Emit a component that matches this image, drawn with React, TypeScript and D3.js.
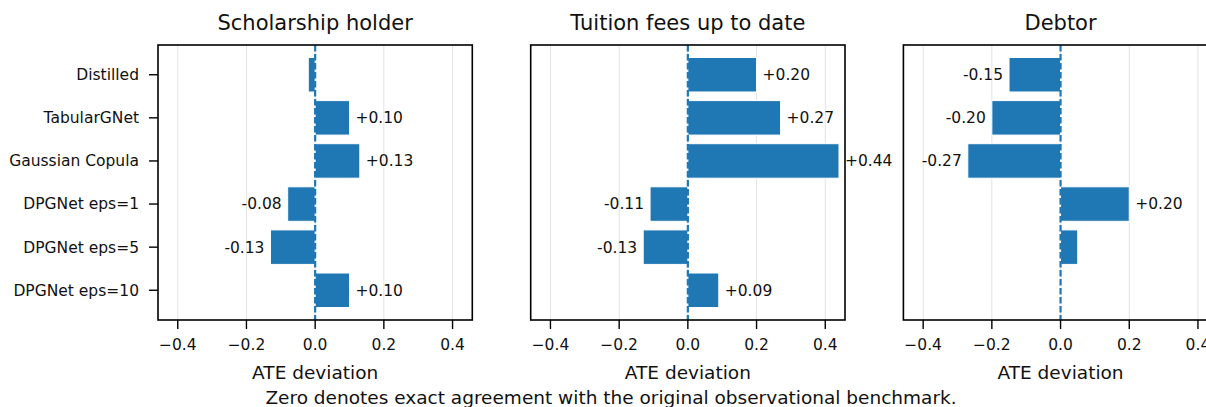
import * as d3 from 'd3'

const W = 1206, H = 407
const M = { top: 45, bottom: 320, left: 158 }
const PW = 314.3, GAP = 372.7

const categories = ['Distilled', 'TabularGNet', 'Gaussian Copula', 'DPGNet eps=1', 'DPGNet eps=5', 'DPGNet eps=10']
const titles = ['Scholarship holder', 'Tuition fees up to date', 'Debtor']
const scholarship = [-0.02, 0.10, 0.13, -0.08, -0.13, 0.10]
const tuition = [0.20, 0.27, 0.44, -0.11, -0.13, 0.09]
const debtor = [-0.15, -0.20, -0.27, 0.20, 0.05, 0.002]
const xTicks = [-0.4, -0.2, 0.0, 0.2, 0.4]
const LABEL_MIN = 0.07

const series = [scholarship, tuition, debtor]
const FONT = 'DejaVu Sans, sans-serif'
const BLUE = '#1f77b4'
const FS = 15.5, FS_LABEL = 18.5

const y = d3.scaleBand<string>()
  .domain(categories)
  .range([M.top, M.bottom])
  .paddingInner(0.2)
  .paddingOuter(0.29)

const fmtTick = d3.format('.1f')
const fmtVal = (v: number) => (v >= 0 ? '+' : '-') + Math.abs(v).toFixed(2)

function Panel({ idx }: { idx: number }) {
  const x0 = M.left + idx * GAP
  const x = d3.scaleLinear().domain([-0.4575, 0.4575]).range([x0, x0 + PW])
  const vals = series[idx]
  const cx = x(0)
  return (
    <g>
      <text x={x0 + PW / 2} y={30} textAnchor="middle" fontSize={21} fontFamily={FONT} fill="#111">{titles[idx]}</text>
      {/* grid */}
      {xTicks.map(t => (
        <line key={'g' + t} x1={x(t)} x2={x(t)} y1={M.top} y2={M.bottom} stroke="#e3e3e3" strokeWidth={1} />
      ))}
      {/* bars */}
      {vals.map((v, i) => (
        <rect key={'b' + i}
          x={Math.min(x(v), cx)} width={Math.abs(x(v) - cx)}
          y={y(categories[i])!} height={y.bandwidth()}
          fill={BLUE} stroke="#fff" strokeWidth={1} />
      ))}
      {/* zero reference */}
      <line x1={cx} x2={cx} y1={M.top} y2={M.bottom} stroke={BLUE} strokeWidth={2.2} strokeDasharray="6.5 2.5" />
      {/* value labels */}
      {vals.map((v, i) => Math.abs(v) < LABEL_MIN ? null : (
        <text key={'v' + i}
          x={v >= 0 ? x(v) + 6 : x(v) - 6}
          y={y(categories[i])! + y.bandwidth() / 2}
          dy="0.35em" textAnchor={v >= 0 ? 'start' : 'end'}
          fontSize={FS} fontFamily={FONT} fill="#111">{fmtVal(v)}</text>
      ))}
      {/* frame */}
      <rect x={x0} y={M.top} width={PW} height={M.bottom - M.top} fill="none" stroke="#000" strokeWidth={1.6} />
      {/* x axis */}
      {xTicks.map(t => (
        <g key={'t' + t}>
          <line x1={x(t)} x2={x(t)} y1={M.bottom} y2={M.bottom + 9} stroke="#000" strokeWidth={1.4} />
          <text x={x(t)} y={350} textAnchor="middle" fontSize={FS} fontFamily={FONT} fill="#111">{fmtTick(t)}</text>
        </g>
      ))}
      <text x={x0 + PW / 2} y={379} textAnchor="middle" fontSize={FS_LABEL} fontFamily={FONT} fill="#111">ATE deviation</text>
      {/* y axis (first panel only) */}
      {idx === 0 && categories.map(c => (
        <g key={'c' + c}>
          <line x1={x0 - 9} x2={x0} y1={y(c)! + y.bandwidth() / 2} y2={y(c)! + y.bandwidth() / 2} stroke="#000" strokeWidth={1.4} />
          <text x={x0 - 19} y={y(c)! + y.bandwidth() / 2} dy="0.35em" textAnchor="end" fontSize={FS} fontFamily={FONT} fill="#111">{c}</text>
        </g>
      ))}
    </g>
  )
}

export default function App() {
  return (
    <svg width={W} height={H} viewBox={`0 0 ${W} ${H}`} style={{ position: 'absolute', left: 0, top: 0, background: '#fff' }}>
      <rect width={W} height={H} fill="#fff" />
      {titles.map((_, i) => <Panel key={i} idx={i} />)}
      <text x={611} y={404} textAnchor="middle" fontSize={FS_LABEL} fontFamily={FONT} fill="#111">
        Zero denotes exact agreement with the original observational benchmark.
      </text>
    </svg>
  )
}
